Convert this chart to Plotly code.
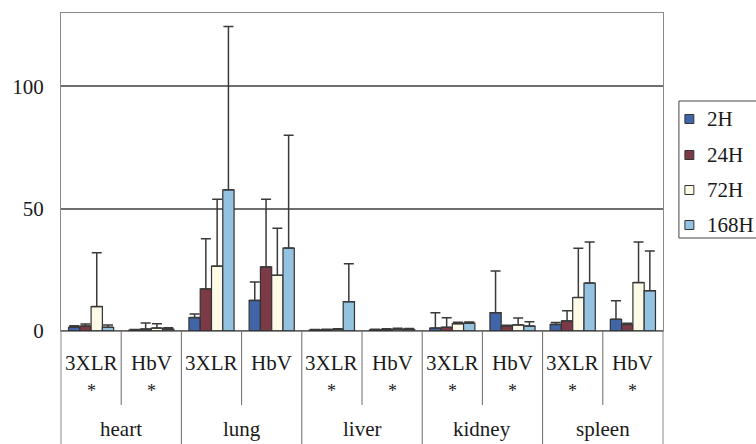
import plotly.graph_objects as go

# ---- data -------------------------------------------------------------
organs = ["heart", "lung", "liver", "kidney", "spleen"]
carriers = ["3XLR", "HbV"]
times = ["2H", "24H", "72H", "168H"]
# significance mark under each carrier label (organ-major order)
marks = ["*", "*", "", "", "*", "*", "*", "*", "*", "*"]

# means, organ-major order: heart-3XLR, heart-HbV, lung-3XLR, ...
mean_2h = [1.5, 0.3, 5.5, 12.5, 0.4, 0.5, 1.2, 7.5, 2.7, 4.8]
mean_24h = [2.0, 0.8, 17.2, 26.2, 0.5, 0.6, 1.5, 2.0, 4.1, 2.7]
mean_72h = [10.0, 1.2, 26.5, 22.8, 0.7, 0.8, 3.0, 2.5, 13.7, 19.8]
mean_168h = [1.5, 0.8, 57.7, 33.9, 12.0, 0.7, 3.2, 2.0, 19.6, 16.5]

# upper error (SD)
sd_2h = [0.6, 0.3, 1.5, 7.5, 0.2, 0.2, 6.3, 17.0, 0.8, 7.6]
sd_24h = [0.9, 2.5, 20.5, 27.7, 0.2, 0.3, 3.9, 0.4, 4.2, 0.5]
sd_72h = [22.0, 1.8, 27.4, 19.2, 0.2, 0.3, 0.6, 2.8, 20.1, 16.6]
sd_168h = [1.0, 0.5, 66.8, 46.1, 15.5, 0.3, 0.5, 1.8, 16.8, 16.2]

colors = ["#4265a8", "#7b3a45", "#fdfbe8", "#93c3e0"]

means = [mean_2h, mean_24h, mean_72h, mean_168h]
sds = [sd_2h, sd_24h, sd_72h, sd_168h]

# ---- geometry -----------------------------------------------------------
W, H = 756, 444
ML, MR, MT, MB = 58, 93, 13, 113
PW, PH = W - ML - MR, H - MT - MB
FONT = "Liberation Serif"
INK = "#1a1a1a"


def px_x(px):
    return (px - ML) / PW


def px_y(py):
    return (H - MB - py) / PH


cats = [f"{o} {c}" for o in organs for c in carriers]

fig = go.Figure()
for name, col, m, s in zip(times, colors, means, sds):
    fig.add_trace(go.Bar(
        x=cats, y=m, name=name,
        marker=dict(color=col, line=dict(color="#333333", width=1.2)),
        error_y=dict(type="data", array=s, arrayminus=[0] * len(s),
                     symmetric=False, color="#3a3a3a", thickness=1.5, width=5),
        showlegend=False,
    ))

shapes = []
annotations = []

# dark baseline
shapes.append(dict(type="line", xref="paper", yref="y", x0=0, x1=1, y0=0, y1=0,
                   line=dict(color="#333333", width=1.5)))

# frame continued down through the label area
for xp in (0, 1):
    shapes.append(dict(type="line", xref="paper", yref="paper", x0=xp, x1=xp,
                       y0=0, y1=px_y(H), line=dict(color="#8a8a8a", width=1)))

# group dividers (between organs) and sub dividers (between carriers)
for k in range(len(organs)):
    if k > 0:
        xd = 2 * k - 0.5
        shapes.append(dict(type="line", xref="x", yref="paper", x0=xd, x1=xd,
                           y0=0, y1=px_y(H), line=dict(color="#6a6a6a", width=1)))
    xs = 2 * k + 0.5
    shapes.append(dict(type="line", xref="x", yref="paper", x0=xs, x1=xs,
                       y0=0, y1=px_y(405), line=dict(color="#6a6a6a", width=1)))

# carrier labels and significance marks
for i, c in enumerate(cats):
    annotations.append(dict(x=i, y=px_y(363), xref="x", yref="paper",
                            text=carriers[i % 2], showarrow=False,
                            font=dict(family=FONT, size=21, color=INK),
                            xanchor="center", yanchor="middle"))
    if marks[i]:
        annotations.append(dict(x=i, y=px_y(391), xref="x", yref="paper",
                                text=marks[i], showarrow=False,
                                font=dict(family=FONT, size=18, color=INK),
                                xanchor="center", yanchor="middle"))

# organ labels
for k, o in enumerate(organs):
    annotations.append(dict(x=2 * k + 0.5, y=px_y(429), xref="x", yref="paper",
                            text=o, showarrow=False,
                            font=dict(family=FONT, size=21, color=INK),
                            xanchor="center", yanchor="middle"))

# legend box
shapes.append(dict(type="rect", xref="paper", yref="paper",
                   x0=px_x(679), x1=px_x(775), y0=px_y(238), y1=px_y(101),
                   line=dict(color="#444444", width=1), fillcolor="white"))
rows = [119, 155, 190, 225]
for name, col, ry in zip(times, colors, rows):
    shapes.append(dict(type="rect", xref="paper", yref="paper",
                       x0=px_x(685), x1=px_x(694), y0=px_y(ry + 4.5), y1=px_y(ry - 4.5),
                       line=dict(color="#333333", width=1), fillcolor=col))
    annotations.append(dict(x=px_x(705), y=px_y(ry), xref="paper", yref="paper",
                            text=name, showarrow=False,
                            font=dict(family=FONT, size=21, color=INK),
                            xanchor="left", yanchor="middle"))

fig.update_layout(
    width=W, height=H,
    margin=dict(l=ML, r=MR, t=MT, b=MB),
    paper_bgcolor="white", plot_bgcolor="white",
    font=dict(family=FONT, color=INK),
    barmode="group", bargap=0.25, bargroupgap=0,
    shapes=shapes, annotations=annotations,
    xaxis=dict(type="category", range=[-0.5, 9.5], showticklabels=False,
               showgrid=False, showline=True, mirror=True,
               linecolor="#8a8a8a", linewidth=1, ticks="", zeroline=False),
    yaxis=dict(range=[0, 130], tickvals=[0, 50, 100], ticktext=["0", "50", "100"],
               showgrid=True, gridcolor="#6e6e6e", gridwidth=1.5,
               showline=True, mirror=True, linecolor="#8a8a8a", linewidth=1,
               zeroline=False, ticks="", ticklabelstandoff=12,
               tickfont=dict(family=FONT, size=21, color=INK)),
    showlegend=False,
)

fig.write_html("out.html")
